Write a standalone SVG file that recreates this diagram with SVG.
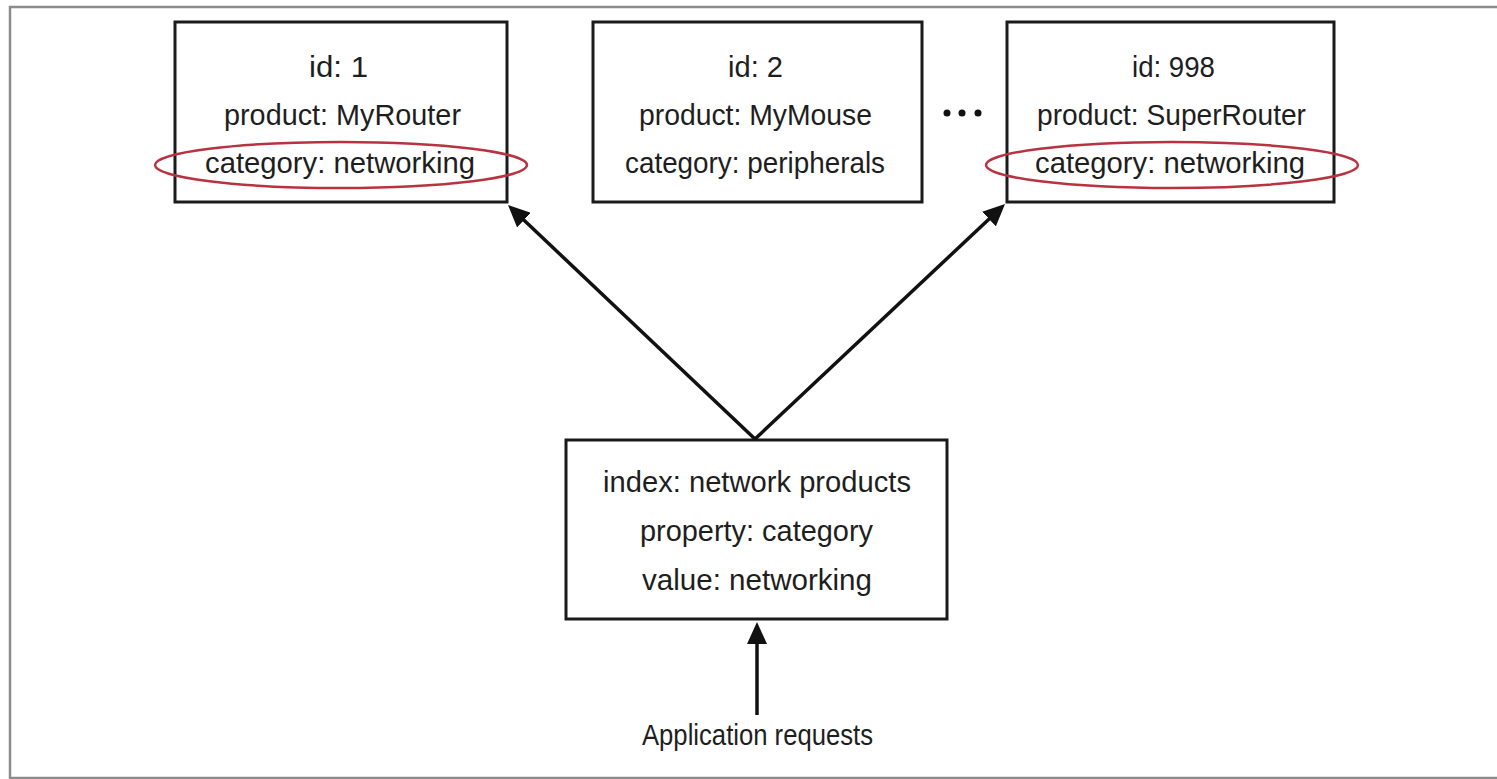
<svg xmlns="http://www.w3.org/2000/svg" width="1497" height="779" viewBox="0 0 1497 779">
  <style>
    .box { fill: #ffffff; stroke: #1a1a1a; stroke-width: 3; }
    .t { font-family: "Liberation Sans", Arial, sans-serif; font-size: 30px; fill: #1e1e1e; }
    .hl { fill: none; stroke: #b8333f; stroke-width: 2.5; }
    .conn { stroke: #111; stroke-width: 3.5; fill: none; }
    .frame { stroke: #8c8c8c; stroke-width: 2.5; fill: none; }
  </style>
  <defs>
    <marker id="arrow" viewBox="0 0 22 20" refX="14" refY="10" markerWidth="22" markerHeight="20" markerUnits="userSpaceOnUse" orient="auto">
      <path d="M0,0 L22,10 L0,20 z" fill="#111"/>
    </marker>
  </defs>
  <rect x="0" y="0" width="1497" height="779" fill="#ffffff"/>
  <path class="frame" d="M1497,7 L10,7 L10,778 L1497,778"/>

  <g id="doc1">
    <rect class="box" x="175" y="22" width="332" height="180"/>
    <text class="t" x="309" y="77" textLength="59" lengthAdjust="spacingAndGlyphs">id: 1</text>
    <text class="t" x="224" y="125" textLength="237" lengthAdjust="spacingAndGlyphs">product: MyRouter</text>
    <text class="t" x="205" y="173" textLength="270" lengthAdjust="spacingAndGlyphs">category: networking</text>
    <ellipse class="hl" cx="341" cy="165" rx="186" ry="23"/>
  </g>

  <g id="doc2">
    <rect class="box" x="593" y="22" width="329" height="180"/>
    <text class="t" x="728" y="77" textLength="55" lengthAdjust="spacingAndGlyphs">id: 2</text>
    <text class="t" x="639" y="125" textLength="233" lengthAdjust="spacingAndGlyphs">product: MyMouse</text>
    <text class="t" x="625" y="173" textLength="260" lengthAdjust="spacingAndGlyphs">category: peripherals</text>
  </g>

  <g id="ellipsis">
    <circle cx="947" cy="113" r="3.5" fill="#111"/>
    <circle cx="962" cy="113" r="3.5" fill="#111"/>
    <circle cx="978" cy="113" r="3.5" fill="#111"/>
  </g>

  <g id="doc998">
    <rect class="box" x="1007" y="22" width="327" height="180"/>
    <text class="t" x="1132" y="77" textLength="83" lengthAdjust="spacingAndGlyphs">id: 998</text>
    <text class="t" x="1037" y="125" textLength="269" lengthAdjust="spacingAndGlyphs">product: SuperRouter</text>
    <text class="t" x="1035" y="173" textLength="270" lengthAdjust="spacingAndGlyphs">category: networking</text>
    <ellipse class="hl" cx="1172" cy="165" rx="186" ry="23"/>
  </g>

  <g id="index">
    <rect class="box" x="566" y="440" width="381" height="179"/>
    <text class="t" x="603" y="492" textLength="308" lengthAdjust="spacingAndGlyphs">index: network products</text>
    <text class="t" x="640" y="541" textLength="233" lengthAdjust="spacingAndGlyphs">property: category</text>
    <text class="t" x="642" y="590" textLength="230" lengthAdjust="spacingAndGlyphs">value: networking</text>
  </g>

  <g id="app">
    <text class="t" x="642" y="745" textLength="231" lengthAdjust="spacingAndGlyphs">Application requests</text>
  </g>

  <g id="connectors">
    <line class="conn" x1="755" y1="439" x2="513.8" y2="210.5" marker-end="url(#arrow)"/>
    <line class="conn" x1="755" y1="439" x2="999.2" y2="209.5" marker-end="url(#arrow)"/>
    <line class="conn" x1="757" y1="715" x2="757" y2="630" marker-end="url(#arrow)"/>
  </g>
</svg>
